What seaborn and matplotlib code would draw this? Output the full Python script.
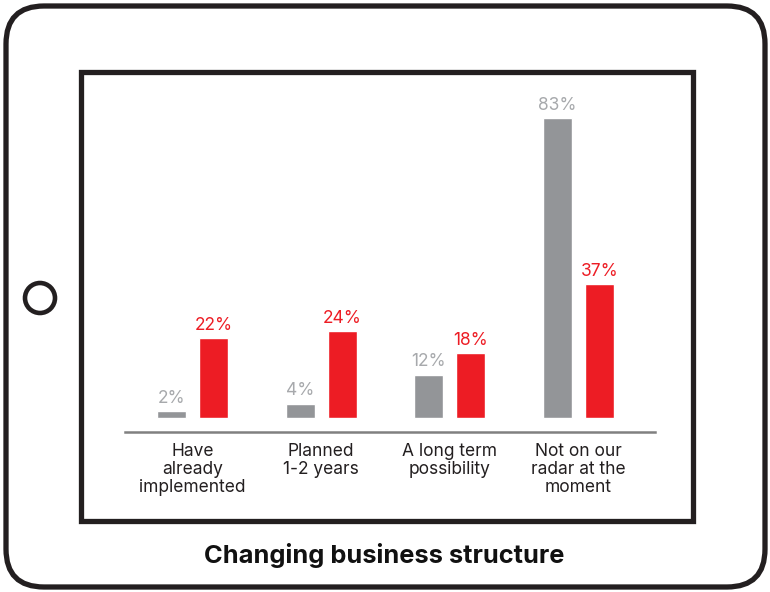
"""
Changing business structure - grouped bars inside a tablet outline.
"""
import pandas as pd
import matplotlib
matplotlib.use('Agg')
import matplotlib.pyplot as plt
from matplotlib.patches import FancyBboxPatch, Rectangle, Circle
import seaborn as sns

# Data
categories = ['Have\nalready\nimplemented', 'Planned\n1-2 years',
              'A long term\npossibility', 'Not on our\nradar at the\nmoment']
series = ['Group A', 'Group B']
grey_values = [2, 4, 12, 83]
red_values = [22, 24, 18, 37]

GREY = '#939598'
GREY_TXT = '#a7a9ac'
RED = '#ed1c24'
INK = '#231f20'

df = pd.DataFrame({
    'category': categories * 2,
    'series': [series[0]] * 4 + [series[1]] * 4,
    'value': grey_values + red_values,
})

sns.set_style('white')
plt.rcParams['font.family'] = ['Inter', 'DejaVu Sans']

fig = plt.figure(figsize=(7.7, 5.92), dpi=100)

# background layer: tablet outline, screen, home button, title (pixel coords)
bg = fig.add_axes([0, 0, 1, 1])
bg.set_xlim(0, 770)
bg.set_ylim(592, 0)
bg.axis('off')
bg.add_patch(FancyBboxPatch((6, 6), 759, 581,
                            boxstyle='round,pad=0,rounding_size=38',
                            fill=False, ec=INK, lw=3.8))
bg.add_patch(Rectangle((80.5, 71.5), 612, 449, fill=False, ec=INK, lw=3.8))
bg.add_patch(Circle((40, 298), 15, fill=False, ec=INK, lw=3.3))
bg.text(384, 556, 'Changing business structure', ha='center', va='center',
        fontsize=18.3, fontweight='bold', color='#111111')

# bar chart
ax = fig.add_axes([125 / 770, 1 - 432 / 592, 530 / 770, 339.3 / 592])
sns.barplot(data=df, x='category', y='value', hue='series', order=categories,
            palette=[GREY, RED], width=0.653, gap=0.31, saturation=1,
            legend=False, ax=ax)

for cont, col in zip(ax.containers, [GREY_TXT, RED]):
    ax.bar_label(cont, fmt='{:.0f}%', color=col, fontsize=12.5, padding=3)

ax.set_xlim(-0.524, 3.594)
ax.set_ylim(-3.87, 90)
ax.set_xlabel('')
ax.set_ylabel('')
ax.set_yticks([])
ax.tick_params(axis='x', length=0, pad=8, labelsize=12.5, labelcolor=INK)
for lab in ax.get_xticklabels():
    lab.set_linespacing(1.08)
sns.despine(ax=ax, left=True)
ax.spines['bottom'].set_color('#808080')
ax.spines['bottom'].set_linewidth(1.8)
ax.patch.set_alpha(0)

plt.savefig('out.png', dpi=100)
plt.close()
